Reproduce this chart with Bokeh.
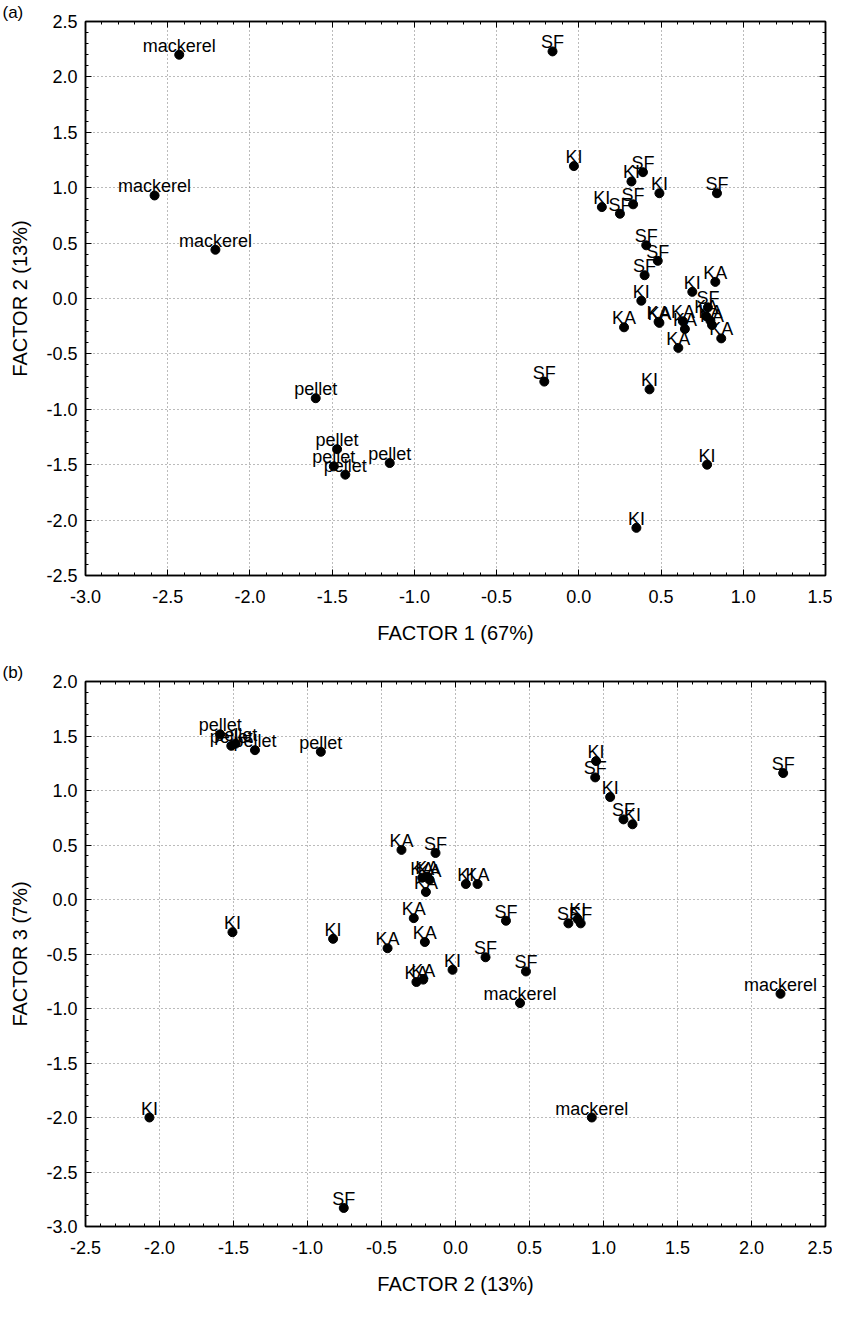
from bokeh.plotting import figure
from bokeh.models import (Range1d, LinearAxis, SingleIntervalTicker, PrintfTickFormatter,
                          CustomJSTickFormatter, ColumnDataSource)
from bokeh.layouts import column
from bokeh.embed import file_html
from bokeh.resources import INLINE
from bokeh.core.properties import value

# ---------------- Panel (a): FACTOR 1 vs FACTOR 2 ----------------
a_labels = (["mackerel"] * 3 + ["pellet"] * 5 +
            ["SF"] * 10 + ["KI"] * 9 + ["KA"] * 11)
a_factor1 = [-2.43, -2.58, -2.21,
             -1.60, -1.47, -1.49, -1.42, -1.15,
             -0.16, -0.21, 0.39, 0.84, 0.33, 0.25, 0.41, 0.48, 0.40, 0.785,
             -0.03, 0.32, 0.49, 0.14, 0.69, 0.38, 0.43, 0.78, 0.35,
             0.83, 0.275, 0.485, 0.49, 0.633, 0.645, 0.605, 0.775, 0.80, 0.81, 0.866]
a_factor2 = [2.20, 0.93, 0.44,
             -0.90, -1.36, -1.515, -1.59, -1.485,
             2.23, -0.75, 1.14, 0.95, 0.85, 0.765, 0.48, 0.34, 0.21, -0.08,
             1.195, 1.056, 0.95, 0.825, 0.06, -0.02, -0.82, -1.50, -2.07,
             0.15, -0.26, -0.21, -0.22, -0.206, -0.275, -0.446, -0.16, -0.20, -0.24, -0.36]

# ---------------- Panel (b): FACTOR 2 vs FACTOR 3 ----------------
b_labels = (["pellet"] * 5 + ["mackerel"] * 3 +
            ["KI"] * 9 + ["SF"] * 10 + ["KA"] * 11)
b_factor2 = [-1.59, -1.515, -1.485, -1.355, -0.91,
             2.196, 0.436, 0.921,
             0.95, 1.045, 1.196, 0.826, 0.07, -0.02, -0.827, -1.507, -2.068,
             0.944, 1.135, 2.214, 0.763, 0.846, 0.341, 0.203, 0.476, -0.135, -0.755,
             0.149, -0.365, -0.225, -0.19, -0.175, -0.20, -0.282, -0.207, -0.459, -0.264, -0.218]
b_factor3 = [1.515, 1.41, 1.43, 1.37, 1.355,
             -0.865, -0.95, -2.0,
             1.27, 0.94, 0.69, -0.18, 0.142, -0.645, -0.361, -0.30, -2.0,
             1.12, 0.735, 1.16, -0.219, -0.219, -0.195, -0.53, -0.66, 0.427, -2.83,
             0.142, 0.455, 0.20, 0.21, 0.18, 0.069, -0.171, -0.39, -0.447, -0.757, -0.735]

tick_step = 0.5

TICK_FONT = "Liberation Sans Narrow, Liberation Sans, Arial"
TEXT_FONT = "Liberation Sans, Arial"


def make_panel(xr, yr, xs, ys, labs, xtitle, ytitle, tag, height, top, bottom):
    p = figure(width=832, height=height, x_range=Range1d(*xr), y_range=Range1d(*yr),
               output_backend="svg", toolbar_location=None,
               min_border_left=85, min_border_right=7,
               min_border_top=top, min_border_bottom=bottom)
    p.background_fill_color = "white"
    p.border_fill_color = None
    p.outline_line_color = "black"
    p.outline_line_width = 1.5

    for ax in (p.xaxis[0], p.yaxis[0]):
        ax.ticker = SingleIntervalTicker(interval=tick_step, num_minor_ticks=5)
        ax.formatter = PrintfTickFormatter(format="%.1f")
        ax.major_tick_in = 6
        ax.major_tick_out = 0
        ax.minor_tick_in = 3
        ax.minor_tick_out = 0
        ax.axis_line_color = "black"
        ax.axis_line_width = 1.5
        ax.major_tick_line_color = "black"
        ax.minor_tick_line_color = "black"
        ax.major_label_text_font = TICK_FONT
        ax.major_label_text_font_size = "18px"
        ax.major_label_text_color = "black"
        ax.axis_label_text_font = TEXT_FONT
        ax.axis_label_text_font_size = "20px"
        ax.axis_label_text_font_style = "normal"
        ax.axis_label_text_color = "black"
    p.xaxis.axis_label = xtitle
    p.yaxis.axis_label = ytitle
    p.xaxis.major_label_standoff = 14
    p.yaxis.major_label_standoff = 8
    p.xaxis.axis_label_standoff = 16
    p.yaxis.axis_label_standoff = 12

    for loc in ("above", "right"):
        ax = LinearAxis(ticker=SingleIntervalTicker(interval=tick_step, num_minor_ticks=5),
                        formatter=CustomJSTickFormatter(code="return ''"),
                        major_label_text_font_size="10px", major_label_standoff=0,
                        major_tick_in=6, major_tick_out=0, minor_tick_in=3, minor_tick_out=0,
                        axis_line_color="black", axis_line_width=1.5)
        p.add_layout(ax, loc)

    for g in (p.xgrid[0], p.ygrid[0]):
        g.ticker = SingleIntervalTicker(interval=tick_step)
        g.grid_line_color = "#777777"
        g.grid_line_dash = "1 3"
        g.grid_line_width = 1

    src = ColumnDataSource(dict(x=xs, y=ys, lab=labs))
    p.scatter("x", "y", source=src, size=9, color="black")
    p.text("x", "y", text="lab", source=src, text_align="center",
           text_baseline="alphabetic", y_offset=-9,
           text_font=value(TEXT_FONT), text_font_size="18px", text_color="black")

    # panel tag, shifted from the frame's left edge into the left margin
    p.title.text = tag
    p.title.align = "left"
    p.title.offset = -83
    p.title.standoff = 0
    p.title.text_font = TEXT_FONT
    p.title.text_font_size = "17px"
    p.title.text_font_style = "normal"
    p.title.text_color = "black"
    return p


pa = make_panel((-3.0, 1.5), (-2.5, 2.5), a_factor1, a_factor2, a_labels,
                "FACTOR 1 (67%)", "FACTOR 2 (13%)", "(a)", 660, 14, 85)
pb = make_panel((-2.5, 2.5), (-3.0, 2.0), b_factor2, b_factor3, b_labels,
                "FACTOR 2 (13%)", "FACTOR 3 (7%)", "(b)", 637, 21, 60)

layout = column(pa, pb, spacing=0)
open("out.html", "w").write(file_html(layout, INLINE))
